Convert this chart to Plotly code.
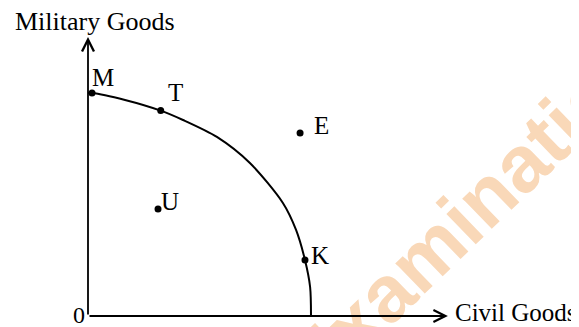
import plotly.graph_objects as go

# Curva de possibilidades de produção
curva_x = [0.0, 0.18, 1.66, 3.26, 4.26, 5.78, 7.26, 8.74, 9.33, 9.73, 9.96, 10.0]
curva_y = [10.0, 10.0, 9.69, 9.21, 8.79, 8.03, 6.86, 5.07, 3.86, 2.51, 1.30, 0.0]

# Pontos marcados
pontos = ['M', 'T', 'E', 'K', 'U']
pontos_x = [0.18, 3.26, 9.51, 9.73, 3.14]
pontos_y = [10.0, 9.21, 8.21, 2.51, 4.80]

# Fim dos eixos
eixo_x_fim = 16.14
eixo_y_fim = 12.51

# Escala (px por unidade), origem na janela e margem do body da página
esc = 22.3
ox, oy = 88, 316
W, H = 579, 327
m = 8

fig = go.Figure()

# Curva
fig.add_trace(go.Scatter(
    x=curva_x, y=curva_y,
    mode='lines',
    line=dict(color='black', width=2, shape='spline', smoothing=0.8),
    hoverinfo='skip'
))

# Pontos
fig.add_trace(go.Scatter(
    x=pontos_x, y=pontos_y,
    mode='markers',
    marker=dict(color='black', size=7),
    hoverinfo='skip'
))

fonte = dict(family='Liberation Serif', size=25, color='black')
fonte_eixo = dict(family='Liberation Serif', size=26, color='black')

# Deslocamento dos rótulos em relação ao ponto (px)
desloc = {'M': (11, 16), 'T': (15, 18), 'E': (21, 7), 'K': (15, 5), 'U': (12, 7)}

anot = []

# Marca d'água
anot.append(dict(
    x=(470 - ox) / esc, y=(oy - 211) / esc,
    text='<b>Examination</b>',
    showarrow=False,
    textangle=-44,
    font=dict(family='Liberation Sans', size=80, color='rgb(249,216,184)')
))

# Eixos com setas
anot.append(dict(
    x=0, y=eixo_y_fim, ax=0, ay=0, axref='x', ayref='y',
    showarrow=True, arrowhead=5, arrowwidth=1.8, arrowsize=1.3,
    arrowcolor='black', text=''
))
anot.append(dict(
    x=eixo_x_fim, y=0, ax=0, ay=0, axref='x', ayref='y',
    showarrow=True, arrowhead=5, arrowwidth=1.8, arrowsize=1.3,
    arrowcolor='black', text=''
))

for nome, px_, py_ in zip(pontos, pontos_x, pontos_y):
    dx, dy = desloc[nome]
    anot.append(dict(
        x=px_ + dx / esc, y=py_ + dy / esc,
        text=nome, showarrow=False, font=fonte
    ))

anot.append(dict(x=-9 / esc, y=1 / esc, text='0', showarrow=False,
                 font=dict(family='Liberation Serif', size=24, color='black')))
anot.append(dict(x=(453 - ox) / esc, y=(oy - 312) / esc, text='Civil Goods',
                 xanchor='left', showarrow=False,
                 font=dict(family='Liberation Serif', size=25, color='black')))
anot.append(dict(x=(13 - ox) / esc, y=(oy - 21) / esc, text='Military Goods',
                 xanchor='left', showarrow=False, font=fonte_eixo))

fig.update_layout(
    width=W - m, height=H - m,
    margin=dict(l=0, r=0, t=0, b=0),
    paper_bgcolor='white',
    plot_bgcolor='white',
    showlegend=False,
    annotations=anot
)

fig.update_xaxes(range=[-(ox - m) / esc, (W - ox) / esc], visible=False)
fig.update_yaxes(range=[-(H - oy) / esc, (oy - m) / esc], visible=False)

fig.write_html("out.html")
